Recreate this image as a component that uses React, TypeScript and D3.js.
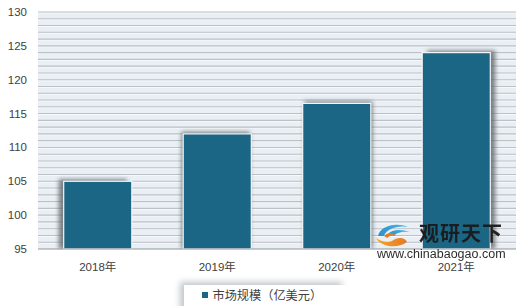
import React from "react";
import * as d3 from "d3";

const categories = ["2018年", "2019年", "2020年", "2021年"];
const values = [105, 112, 116.5, 124];
const yTicks = [95, 100, 105, 110, 115, 120, 125, 130];
const seriesName = "市场规模（亿美元）";

const W = 520;
const H = 306;
const M = { left: 38, right: 4, top: 12, bottom: 57 };

export default function App() {
  const x = d3
    .scaleBand<string>()
    .domain(categories)
    .range([M.left, W - M.right])
    .paddingInner(0.43)
    .paddingOuter(0.215);
  const y = d3.scaleLinear().domain([95, 130]).range([H - M.bottom, M.top]);
  const gridVals = d3.range(95, 131, 1);
  const cx = (M.left + W - M.right) / 2;
  const font = "'Liberation Sans', 'Noto Sans CJK SC', sans-serif";

  return (
    <svg
      width={W}
      height={H}
      style={{ position: "absolute", left: 0, top: 0, background: "#fff" }}
    >
      <defs>
        <filter id="blur" x="-30%" y="-30%" width="160%" height="160%">
          <feGaussianBlur stdDeviation="2" />
        </filter>
        <filter id="blur2" x="-30%" y="-60%" width="160%" height="220%">
          <feGaussianBlur stdDeviation="3" />
        </filter>
        <linearGradient id="logoA" x1="0" x2="1" y1="0" y2="0">
          <stop offset="0" stopColor="#f7a21b" />
          <stop offset="1" stopColor="#e8731a" />
        </linearGradient>
        <linearGradient id="logoB" x1="0" x2="1" y1="0" y2="0">
          <stop offset="0" stopColor="#1f8ecf" />
          <stop offset="1" stopColor="#46b6e6" />
        </linearGradient>
      </defs>
      <rect
        x={M.left}
        y={M.top}
        width={W - M.right - M.left}
        height={y(95) - M.top}
        fill="#e9eff4"
      />
      {gridVals.map((v) => (
        <g key={v}>
          <line
            x1={M.left}
            x2={W - M.right}
            y1={y(v) + 1}
            y2={y(v) + 1}
            stroke="#f7f9fb"
            strokeWidth={1}
          />
          <line
            x1={M.left}
            x2={W - M.right}
            y1={y(v)}
            y2={y(v)}
            stroke="#bcc1c6"
            strokeWidth={1.1}
          />
        </g>
      ))}
      {categories.map((c, i) => {
        const bx = x(c)!;
        const bw = x.bandwidth();
        const dx = ((bx + bw / 2 - cx) / 180) * 5;
        return (
          <g key={c}>
            <rect
              x={bx + dx}
              y={y(values[i]) - 2}
              width={bw}
              height={y(95) - y(values[i]) + 2}
              fill="#5f6367"
              opacity={0.8}
              filter="url(#blur)"
            />
            <rect
              x={bx}
              y={y(values[i])}
              width={bw}
              height={y(95) - y(values[i])}
              fill="#1b6585"
              stroke="#f4f7f9"
              strokeWidth={1.2}
            />
          </g>
        );
      })}
      <rect x={M.left} y={y(95) + 0.6} width={W - M.left} height={H - y(95)} fill="#fff" />
      <line
        x1={M.left}
        x2={W - M.right}
        y1={y(95)}
        y2={y(95)}
        stroke="#a6a9ac"
        strokeWidth={1.2}
      />
      {yTicks.map((t) => (
        <text
          key={t}
          x={27}
          y={y(t)}
          dy="0.35em"
          textAnchor="end"
          fontSize={11.5}
          fill="#404040"
          fontFamily={font}
        >
          {t}
        </text>
      ))}
      {categories.map((c) => (
        <text
          key={c}
          x={x(c)! + x.bandwidth() / 2}
          y={267}
          dy="0.35em"
          textAnchor="middle"
          fontSize={11.5}
          fill="#404040"
          fontFamily={font}
        >
          {c}
        </text>
      ))}
      {/* legend */}
      <rect x={180} y={282} width={162} height={30} fill="#9aa0a6" opacity={0.6} filter="url(#blur2)" />
      <rect x={184} y={285} width={170} height={25} fill="#fff" />
      <rect x={202} y={292} width={6} height={6} fill="#1b6585" />
      <text x={212.5} y={295.5} dy="0.35em" fontSize={12.2} fill="#404040" fontFamily={font}>
        {seriesName}
      </text>
      {/* watermark */}
      <g opacity={0.95}>
        <path d="M378,236 C380,226 396,222 408,227 C398,225 386,229 384,236 Z" fill="url(#logoB)" />
        <path d="M388,234 C392,229 402,229 410,232 C402,231 396,233 394,236 Z" fill="url(#logoB)" />
        <path d="M376,238 C380,246 396,250 407,242 C404,236 396,238 392,241 C388,243 382,242 376,238 Z" fill="url(#logoA)" />
        <path d="M384,236 C388,232 394,233 396,236 C392,235 389,236 387,238 Z" fill="#e8731a" />
        <text x={419} y={241} fontSize={20} fontWeight="bold" fill="#1a1a1a" fontFamily="'Noto Sans CJK SC', sans-serif" letterSpacing={1}>
          观研天下
        </text>
        <text x={377} y={258} fontSize={12.5} fill="#222" fontFamily="'Liberation Sans', sans-serif">
          www.chinabaogao.com
        </text>
      </g>
    </svg>
  );
}
